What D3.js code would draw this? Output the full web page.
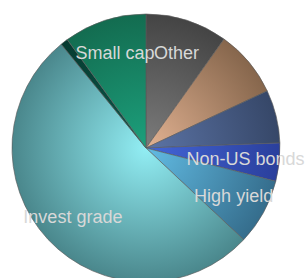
<!DOCTYPE html>
<html>
<head>
<meta charset="utf-8">
<script src="https://cdn.jsdelivr.net/npm/d3@7"></script>
<style>
  body { margin: 0; background: #fff; }
  svg { display: block; }
</style>
</head>
<body>
<svg id="chart" width="306" height="278"></svg>
<script>
// slices clockwise from 12 o'clock, share in percent
var categories = ['Other', '', '', 'Non-US bonds', 'High yield', 'Invest grade', '', 'Small cap']
var values = [9.9, 8.1, 6.4, 4.6, 8.0, 52.1, 0.9, 10.0]

// light colour at the centre, dark colour at the rim
var innerColors = ['#7c7c7c', '#e2b292', '#5c74a6', '#4466d8', '#62bce4', '#92eef4', '#0c5a4c', '#1ca07c']
var outerColors = ['#444444', '#86664c', '#364768', '#2a3f9c', '#356d8c', '#4a878c', '#063a30', '#136c50']

var width = 306, height = 278
var cx = 146, cy = 148, radius = 134

var svg = d3.select('#chart')
var defs = svg.append('defs')

innerColors.forEach(function (c, i) {
  var g = defs.append('radialGradient')
    .attr('id', 'grad' + i)
    .attr('gradientUnits', 'userSpaceOnUse')
    .attr('cx', 0).attr('cy', 0).attr('r', radius)
  g.append('stop').attr('offset', '0%').attr('stop-color', c)
  g.append('stop').attr('offset', '100%').attr('stop-color', outerColors[i])
})

var pie = d3.pie().sort(null).value(function (d) { return d })
var arcs = pie(values)

var arc = d3.arc().innerRadius(0).outerRadius(radius)
var labelArc = d3.arc().innerRadius(100).outerRadius(100)

var g = svg.append('g')
  .attr('transform', 'translate(' + cx + ',' + cy + ')')

g.selectAll('path.slice')
  .data(arcs)
  .enter().append('path')
  .attr('class', 'slice')
  .attr('d', arc)
  .attr('fill', function (d, i) { return 'url(#grad' + i + ')' })
  .attr('stroke', '#5a5a5a')
  .attr('stroke-opacity', 0.8)
  .attr('stroke-width', 0.8)

g.selectAll('text.label')
  .data(arcs)
  .enter().append('text')
  .attr('class', 'label')
  .attr('transform', function (d) { return 'translate(' + labelArc.centroid(d) + ')' })
  .attr('text-anchor', 'middle')
  .attr('dy', '0.35em')
  .style('font-family', '"Liberation Sans", Arial, sans-serif')
  .style('font-size', '18px')
  .style('fill', '#d8d8d8')
  .text(function (d, i) { return categories[i] })
</script>
</body>
</html>
